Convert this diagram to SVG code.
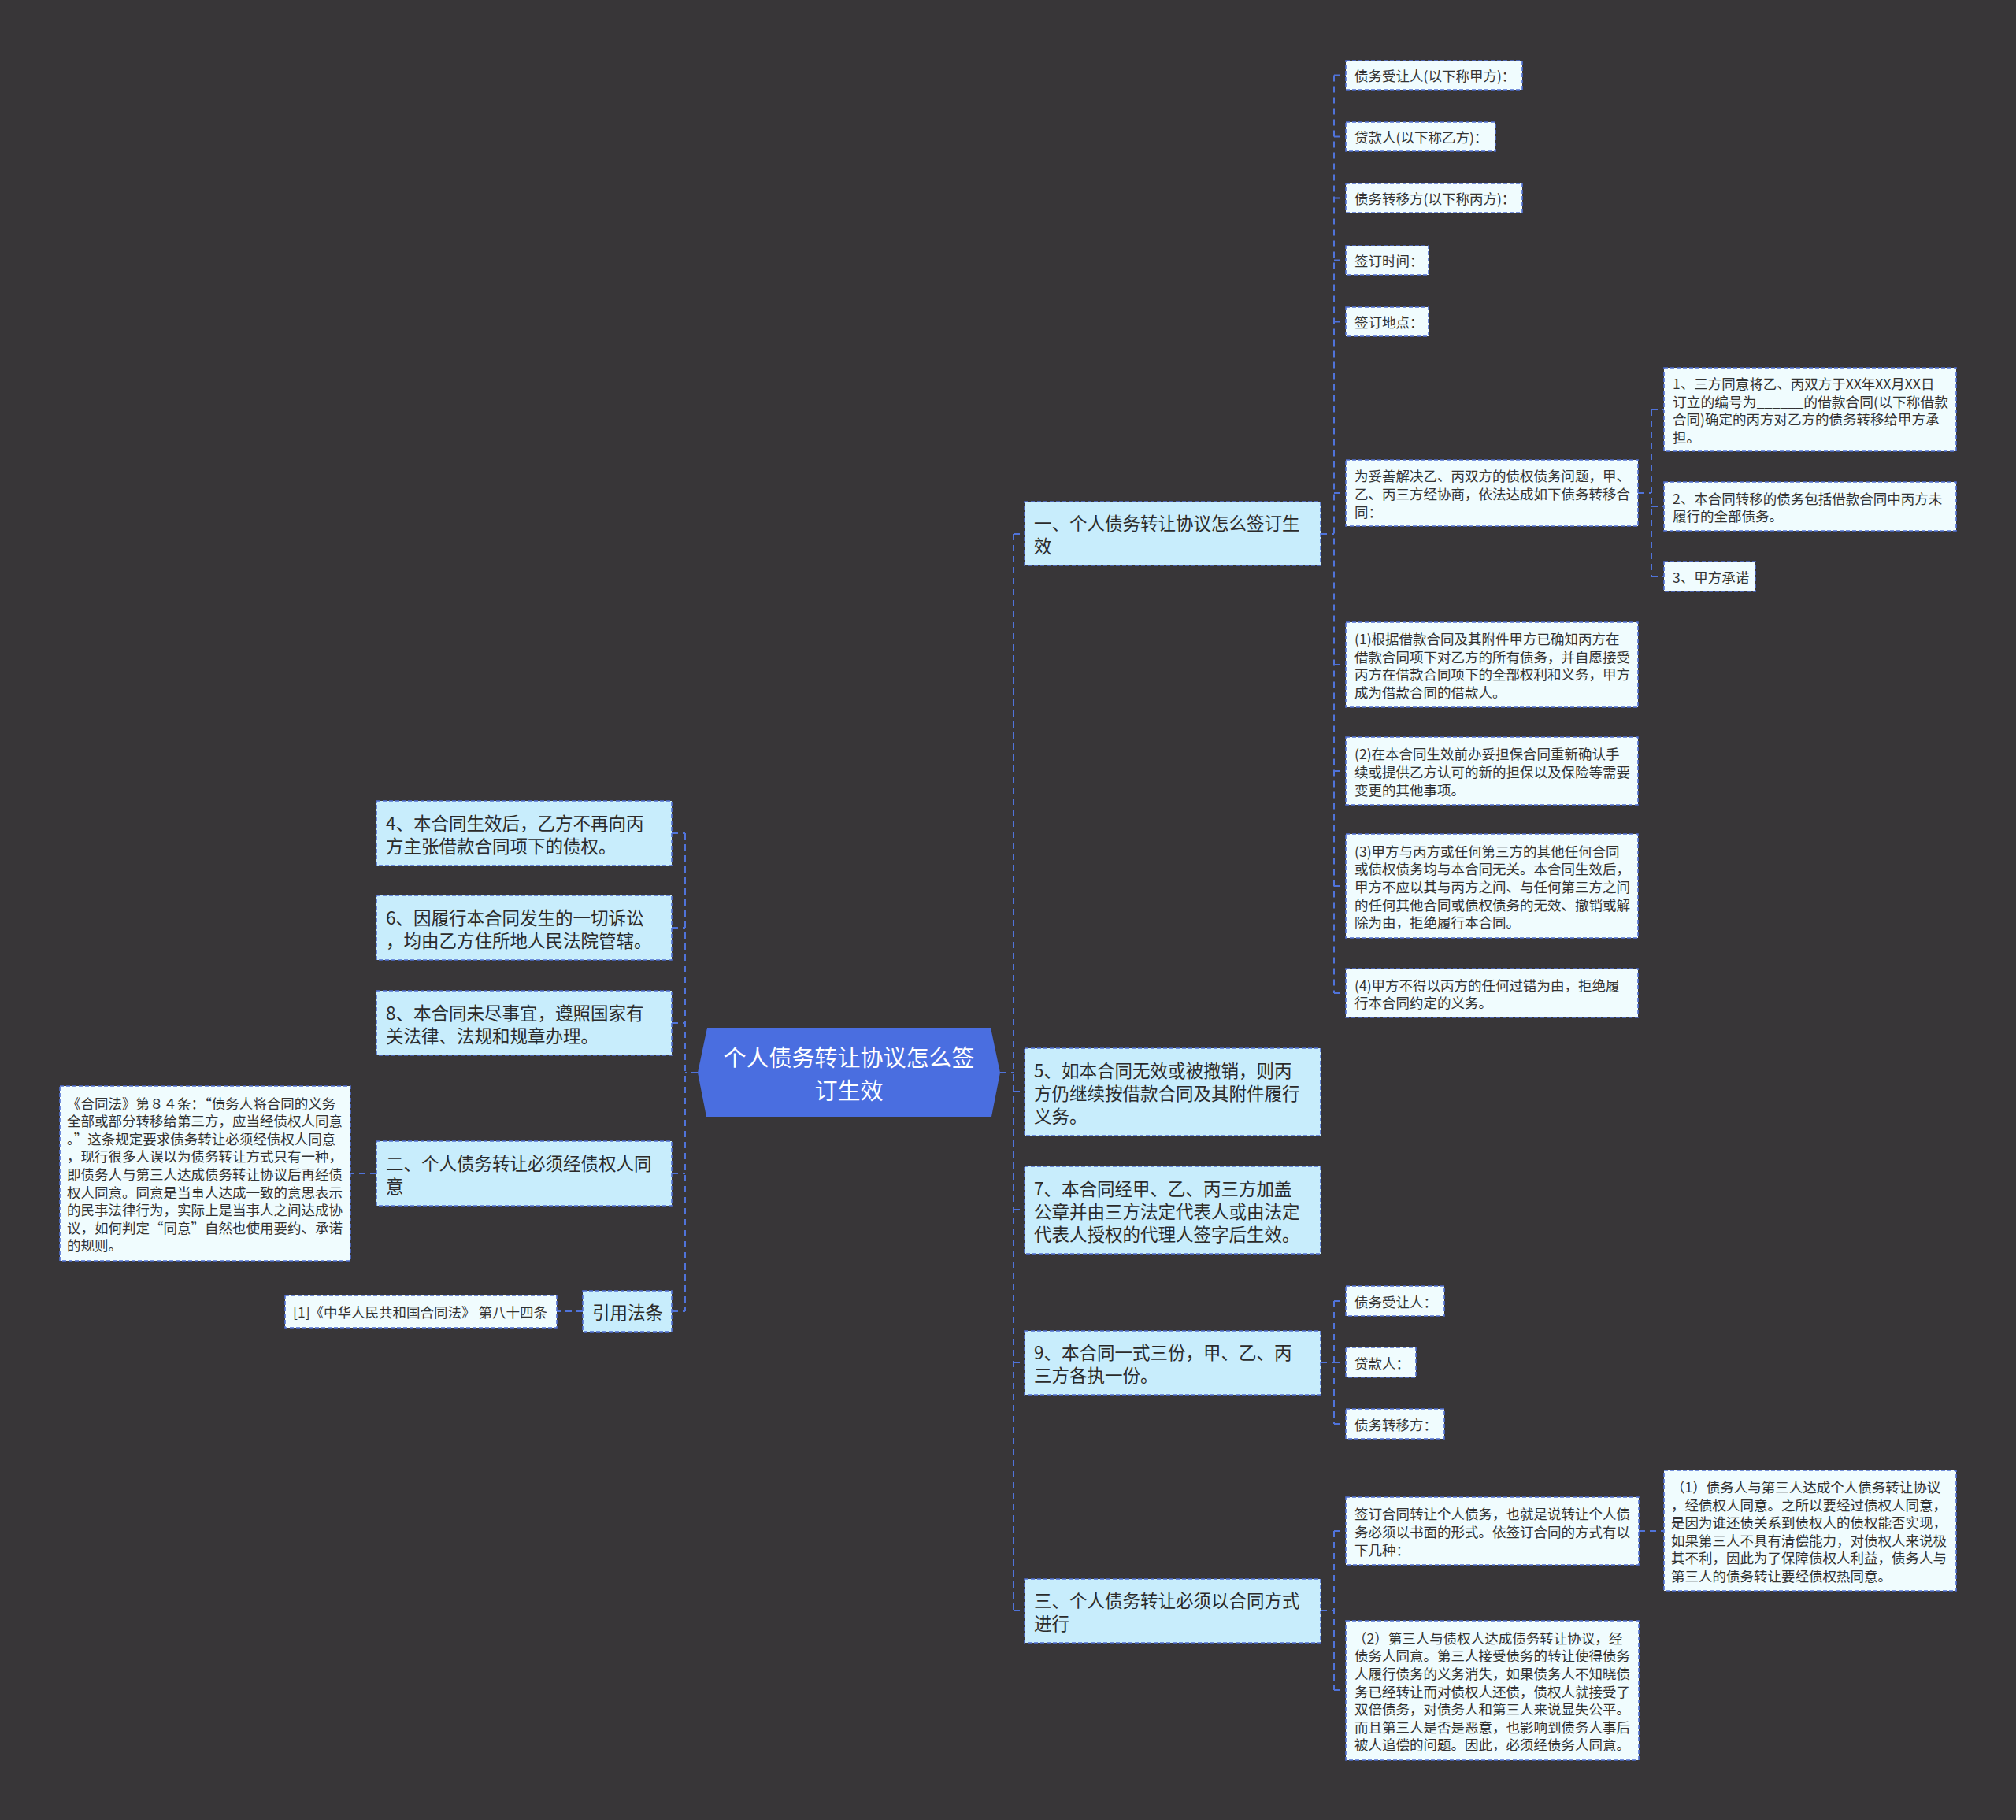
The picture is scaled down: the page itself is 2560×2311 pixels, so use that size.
<svg xmlns="http://www.w3.org/2000/svg" width="2560" height="2311" viewBox="0 0 2560 2311">
<style>
.bg{fill:#383638}
.c{fill:none;stroke:#5073da;stroke-width:2;stroke-dasharray:8 6}
.l1{fill:#c8edfc;stroke:#4f6fd2;stroke-width:1.6;stroke-dasharray:5 3}
.l2{fill:#f0fcfe;stroke:#4f6fd2;stroke-width:1.6;stroke-dasharray:5 3}
.t1{font-family:"Noto Sans CJK SC","Noto Sans",sans-serif;font-size:22.5px;fill:#2b2b2b;dominant-baseline:central}
.t2{font-family:"Noto Sans CJK SC","Noto Sans",sans-serif;font-size:17.5px;fill:#333;dominant-baseline:central}
.tc{font-family:"Noto Sans CJK SC","Noto Sans",sans-serif;font-size:29px;fill:#fff;dominant-baseline:central;text-anchor:middle}
</style>
<rect class="bg" x="0" y="0" width="2560" height="2311"/>

<g id="connectors">
<path class="c" d="M1270,1362 H1287 M1287,678 V2045 M1287,678 H1301 M1287,1386 H1301 M1287,1536 H1301 M1287,1730 H1301 M1287,2045 H1301"/>
<path class="c" d="M1677,678 H1694 M1694,95.5 V1261 M1694,95.5 H1709 M1694,173.5 H1709 M1694,251.5 H1709 M1694,330.5 H1709 M1694,408.5 H1709 M1694,626 H1709 M1694,844 H1709 M1694,979 H1709 M1694,1125 H1709 M1694,1261 H1709"/>
<path class="c" d="M2080,626 H2097 M2097,520 V732 M2097,520 H2113 M2097,643 H2113 M2097,732 H2113"/>
<path class="c" d="M1677,1730 H1694 M1694,1652 V1808 M1694,1652 H1709 M1694,1730 H1709 M1694,1808 H1709"/>
<path class="c" d="M1677,2045 H1694 M1694,1944 V2146 M1694,1944 H1709 M1694,2146 H1709 M2081,1944 H2113"/>
<path class="c" d="M886,1362 H870 M870,1058 V1665 M853,1058 H870 M853,1178 H870 M853,1299 H870 M853,1490 H870 M853,1665 H870 M478,1490 H445 M740,1665 H707"/>
</g>

<g id="center">
<polygon points="898,1305 1258,1305 1270,1362 1259,1418 897,1418 886,1362" fill="#4a6ee0"/>
<text class="tc" x="1078" y="1340.5">个人债务转让协议怎么签</text>
<text class="tc" x="1078" y="1382.5">订生效</text>
</g>

<g id="n1"><rect class="l1" x="1301" y="637" width="376" height="81"/>
<text class="t1"><tspan x="1313" y="663">一、个人债务转让协议怎么签订生</tspan><tspan x="1313" y="692">效</tspan></text></g>
<g id="n5"><rect class="l1" x="1301" y="1331" width="376" height="111"/>
<text class="t1"><tspan x="1313" y="1357.5">5、如本合同无效或被撤销，则丙</tspan><tspan x="1313" y="1386.5">方仍继续按借款合同及其附件履行</tspan><tspan x="1313" y="1415.5">义务。</tspan></text></g>
<g id="n7"><rect class="l1" x="1301" y="1481" width="376" height="111"/>
<text class="t1"><tspan x="1313" y="1507.5">7、本合同经甲、乙、丙三方加盖</tspan><tspan x="1313" y="1536.5">公章并由三方法定代表人或由法定</tspan><tspan x="1313" y="1565.5">代表人授权的代理人签字后生效。</tspan></text></g>
<g id="n9"><rect class="l1" x="1301" y="1690" width="376" height="81"/>
<text class="t1"><tspan x="1313" y="1716">9、本合同一式三份，甲、乙、丙</tspan><tspan x="1313" y="1745">三方各执一份。</tspan></text></g>
<g id="n3"><rect class="l1" x="1301" y="2005" width="376" height="81"/>
<text class="t1"><tspan x="1313" y="2031">三、个人债务转让必须以合同方式</tspan><tspan x="1313" y="2060">进行</tspan></text></g>

<g id="a1"><rect class="l2" x="1709" y="77" width="224" height="37"/><text class="t2" x="1720" y="95.5">债务受让人(以下称甲方)：</text></g>
<g id="a2"><rect class="l2" x="1709" y="155" width="190" height="37"/><text class="t2" x="1720" y="173.5">贷款人(以下称乙方)：</text></g>
<g id="a3"><rect class="l2" x="1709" y="233" width="224" height="37"/><text class="t2" x="1720" y="251.5">债务转移方(以下称丙方)：</text></g>
<g id="a4"><rect class="l2" x="1709" y="312" width="105" height="37"/><text class="t2" x="1720" y="330.5">签订时间：</text></g>
<g id="a5"><rect class="l2" x="1709" y="390" width="105" height="37"/><text class="t2" x="1720" y="408.5">签订地点：</text></g>
<g id="a6"><rect class="l2" x="1709" y="584" width="371" height="84"/>
<text class="t2"><tspan x="1720" y="603.4">为妥善解决乙、丙双方的债权债务问题，甲、</tspan><tspan x="1720" y="626">乙、丙三方经协商，依法达成如下债务转移合</tspan><tspan x="1720" y="648.6">同：</tspan></text></g>
<g id="b1"><rect class="l2" x="2113" y="467" width="371" height="106"/>
<text class="t2"><tspan x="2124" y="486.1">1、三方同意将乙、丙双方于XX年XX月XX日</tspan><tspan x="2124" y="508.7" textLength="350" lengthAdjust="spacingAndGlyphs">订立的编号为______的借款合同(以下称借款</tspan><tspan x="2124" y="531.3">合同)确定的丙方对乙方的债务转移给甲方承</tspan><tspan x="2124" y="553.9">担。</tspan></text></g>
<g id="b2"><rect class="l2" x="2113" y="612" width="371" height="62"/>
<text class="t2"><tspan x="2124" y="631.7">2、本合同转移的债务包括借款合同中丙方未</tspan><tspan x="2124" y="654.3">履行的全部债务。</tspan></text></g>
<g id="b3"><rect class="l2" x="2113" y="713" width="116" height="38"/><text class="t2" x="2124" y="732">3、甲方承诺</text></g>
<g id="a7"><rect class="l2" x="1709" y="790" width="371" height="108"/>
<text class="t2"><tspan x="1720" y="810.1">(1)根据借款合同及其附件甲方已确知丙方在</tspan><tspan x="1720" y="832.7">借款合同项下对乙方的所有债务，并自愿接受</tspan><tspan x="1720" y="855.3">丙方在借款合同项下的全部权利和义务，甲方</tspan><tspan x="1720" y="877.9">成为借款合同的借款人。</tspan></text></g>
<g id="a8"><rect class="l2" x="1709" y="936" width="371" height="86"/>
<text class="t2"><tspan x="1720" y="956.4">(2)在本合同生效前办妥担保合同重新确认手</tspan><tspan x="1720" y="979">续或提供乙方认可的新的担保以及保险等需要</tspan><tspan x="1720" y="1001.6">变更的其他事项。</tspan></text></g>
<g id="a9"><rect class="l2" x="1709" y="1059" width="371" height="132"/>
<text class="t2"><tspan x="1720" y="1079.8">(3)甲方与丙方或任何第三方的其他任何合同</tspan><tspan x="1720" y="1102.4">或债权债务均与本合同无关。本合同生效后，</tspan><tspan x="1720" y="1125">甲方不应以其与丙方之间、与任何第三方之间</tspan><tspan x="1720" y="1147.6">的任何其他合同或债权债务的无效、撤销或解</tspan><tspan x="1720" y="1170.2">除为由，拒绝履行本合同。</tspan></text></g>
<g id="a10"><rect class="l2" x="1709" y="1230" width="371" height="62"/>
<text class="t2"><tspan x="1720" y="1249.7">(4)甲方不得以丙方的任何过错为由，拒绝履</tspan><tspan x="1720" y="1272.3">行本合同约定的义务。</tspan></text></g>

<g id="d1"><rect class="l2" x="1709" y="1633" width="125" height="38"/><text class="t2" x="1720" y="1652">债务受让人：</text></g>
<g id="d2"><rect class="l2" x="1709" y="1711" width="89" height="38"/><text class="t2" x="1720" y="1730">贷款人：</text></g>
<g id="d3"><rect class="l2" x="1709" y="1789" width="125" height="38"/><text class="t2" x="1720" y="1808">债务转移方：</text></g>

<g id="c1"><rect class="l2" x="1709" y="1901" width="372" height="86"/>
<text class="t2"><tspan x="1720" y="1921.4">签订合同转让个人债务，也就是说转让个人债</tspan><tspan x="1720" y="1944">务必须以书面的形式。依签订合同的方式有以</tspan><tspan x="1720" y="1966.6">下几种：</tspan></text></g>
<g id="c2"><rect class="l2" x="2113" y="1867" width="371" height="153"/>
<text class="t2"><tspan x="2122" y="1887">（1）债务人与第三人达成个人债务转让协议</tspan><tspan x="2122" y="1909.6">，经债权人同意。之所以要经过债权人同意，</tspan><tspan x="2122" y="1932.2">是因为谁还债关系到债权人的债权能否实现，</tspan><tspan x="2122" y="1954.8">如果第三人不具有清偿能力，对债权人来说极</tspan><tspan x="2122" y="1977.4">其不利，因此为了保障债权人利益，债务人与</tspan><tspan x="2122" y="2000">第三人的债务转让要经债权热同意。</tspan></text></g>
<g id="c3"><rect class="l2" x="1709" y="2058" width="372" height="177"/>
<text class="t2"><tspan x="1718" y="2078.7">（2）第三人与债权人达成债务转让协议，经</tspan><tspan x="1720" y="2101.3">债务人同意。第三人接受债务的转让使得债务</tspan><tspan x="1720" y="2123.9">人履行债务的义务消失，如果债务人不知晓债</tspan><tspan x="1720" y="2146.5">务已经转让而对债权人还债，债权人就接受了</tspan><tspan x="1720" y="2169.1">双倍债务，对债务人和第三人来说显失公平。</tspan><tspan x="1720" y="2191.7">而且第三人是否是恶意，也影响到债务人事后</tspan><tspan x="1720" y="2214.3">被人追偿的问题。因此，必须经债务人同意。</tspan></text></g>

<g id="l4"><rect class="l1" x="478" y="1017" width="375" height="82"/>
<text class="t1"><tspan x="490" y="1043.5">4、本合同生效后，乙方不再向丙</tspan><tspan x="490" y="1072.5">方主张借款合同项下的债权。</tspan></text></g>
<g id="l6"><rect class="l1" x="478" y="1137" width="375" height="82"/>
<text class="t1"><tspan x="490" y="1163.5">6、因履行本合同发生的一切诉讼</tspan><tspan x="490" y="1192.5">，均由乙方住所地人民法院管辖。</tspan></text></g>
<g id="l8"><rect class="l1" x="478" y="1258" width="375" height="82"/>
<text class="t1"><tspan x="490" y="1284.5">8、本合同未尽事宜，遵照国家有</tspan><tspan x="490" y="1313.5">关法律、法规和规章办理。</tspan></text></g>
<g id="l2n"><rect class="l1" x="478" y="1449" width="375" height="82"/>
<text class="t1"><tspan x="490" y="1475.5">二、个人债务转让必须经债权人同</tspan><tspan x="490" y="1504.5">意</tspan></text></g>
<g id="law"><rect class="l2" x="76" y="1379" width="369" height="222"/>
<text class="t2"><tspan x="85" y="1399.6">《合同法》第８４条：“债务人将合同的义务</tspan><tspan x="85" y="1422.2">全部或部分转移给第三方，应当经债权人同意</tspan><tspan x="85" y="1444.8">。”这条规定要求债务转让必须经债权人同意</tspan><tspan x="85" y="1467.4">，现行很多人误以为债务转让方式只有一种，</tspan><tspan x="85" y="1490">即债务人与第三人达成债务转让协议后再经债</tspan><tspan x="85" y="1512.6">权人同意。同意是当事人达成一致的意思表示</tspan><tspan x="85" y="1535.2">的民事法律行为，实际上是当事人之间达成协</tspan><tspan x="85" y="1557.8">议，如何判定“同意”自然也使用要约、承诺</tspan><tspan x="85" y="1580.4">的规则。</tspan></text></g>
<g id="cite"><rect class="l1" x="740" y="1639" width="113" height="52"/><text class="t1" x="752" y="1665">引用法条</text></g>
<g id="cite1"><rect class="l2" x="362" y="1645" width="345" height="41"/><text class="t2" x="372" y="1665.5">[1]《中华人民共和国合同法》 第八十四条</text></g>
</svg>
